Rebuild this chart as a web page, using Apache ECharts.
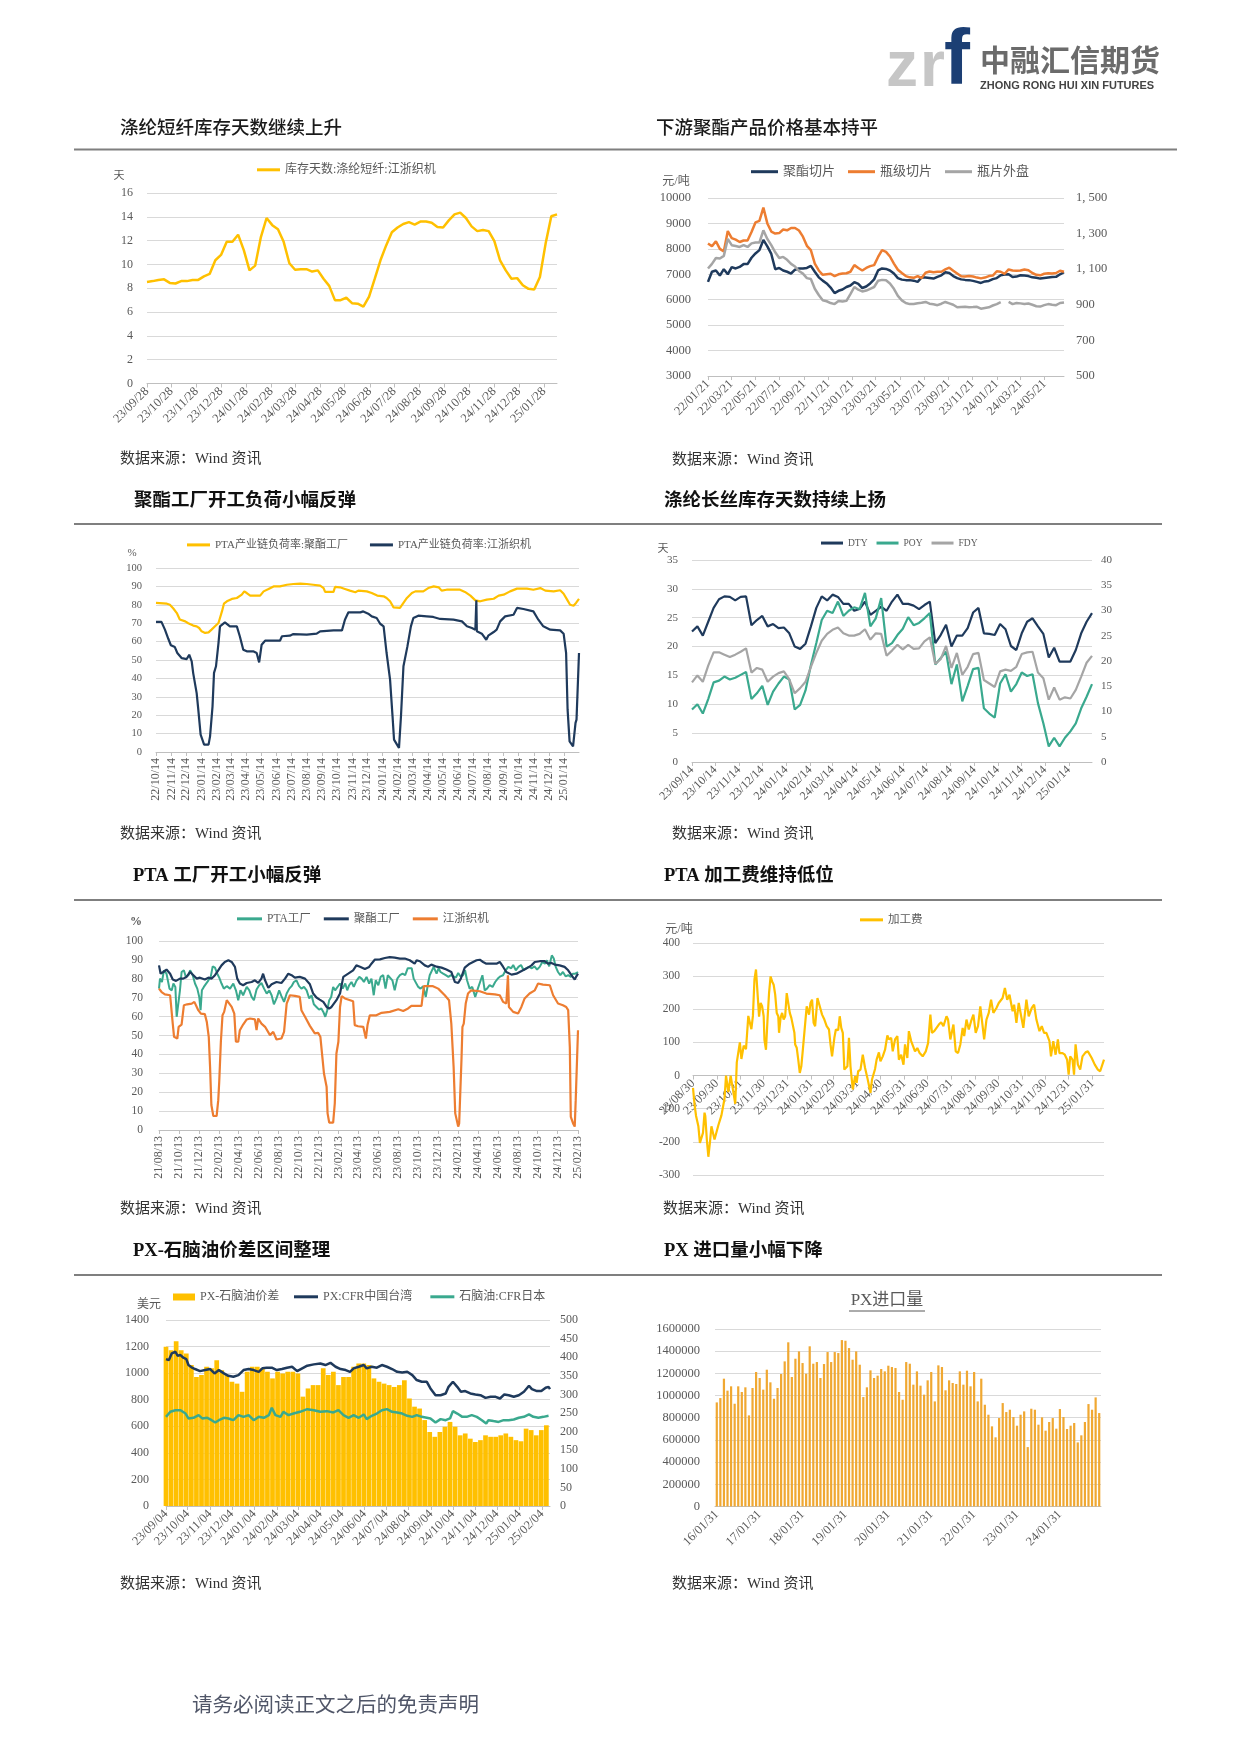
<!DOCTYPE html>
<html><head><meta charset="utf-8">
<script src="https://cdn.jsdelivr.net/npm/echarts@6/dist/echarts.min.js"></script>
<style>html,body{margin:0;padding:0;background:#fff}#c{width:1241px;height:1755px}</style>
</head><body><div id="c"></div>
<script>
// ---------------- DATA ----------------
// Chart 1: 涤纶短纤库存天数 (weekly from 2023-09-28)
const c1Start = [2023, 9, 28];
const c1Vals = [8.53,8.6,8.7,8.75,8.45,8.4,8.6,8.6,8.7,8.7,9.0,9.2,10.35,10.8,11.9,11.9,12.5,11.2,9.5,9.9,12.3,13.9,13.3,12.95,11.9,10.1,9.55,9.6,9.6,9.4,9.5,8.8,8.2,7.0,7.0,7.2,6.75,6.7,6.45,7.3,8.8,10.35,11.6,12.7,13.1,13.4,13.55,13.35,13.6,13.6,13.5,13.15,13.1,13.7,14.2,14.35,13.9,13.2,12.8,12.9,12.8,11.95,10.35,9.5,8.8,8.85,8.25,7.95,7.9,8.95,11.75,14.05,14.2];

// Chart 2: 下游聚酯产品价格 (every 10 days from 2022-01-21)
const c2Start = [2022, 1, 21];
const c2Chip = [6700,7100,7150,6950,7200,7000,7280,7230,7290,7400,7400,7650,7820,7950,8350,8100,7800,7200,7250,7150,7100,7030,7180,7230,7230,7250,7330,7100,6880,6750,6640,6480,6260,6350,6400,6500,6560,6690,6620,6460,6520,6640,6800,7150,7230,7210,7150,7030,6850,6790,6770,6770,6750,6700,6880,6870,6850,6830,6900,6960,7080,7050,6930,6850,6800,6780,6770,6740,6700,6660,6720,6740,6810,6850,6960,6990,7000,6890,6910,6960,6950,6930,6880,6860,6830,6850,6870,6890,6900,7000,7080];
const c2Bottle = [8210,8100,8300,8000,7900,8700,8420,8360,8270,8330,8330,8660,9040,9100,9620,9000,8680,8600,8620,8760,8730,8820,8820,8720,8480,8120,7950,7420,7150,6980,7000,7020,6930,7000,7030,7040,7100,7360,7250,7150,7250,7320,7360,7680,7950,7880,7700,7420,7180,7050,6930,6880,6860,6930,6850,7060,7110,7080,7100,7100,7190,7260,7140,7030,6920,6910,6930,6910,6870,6840,6870,6930,6950,7120,7100,7020,7190,7150,7140,7150,7190,7160,7050,6980,6960,7020,7040,7030,7050,7140,7100];
const c2Export = [1104,1130,1163,1160,1175,1270,1235,1230,1225,1235,1225,1245,1250,1250,1318,1270,1235,1195,1163,1169,1153,1130,1115,1090,1075,1050,1045,990,955,926,920,910,904,921,918,922,960,1000,985,975,980,990,1000,1035,1040,1038,1020,990,950,925,910,904,904,909,911,916,906,903,898,906,916,908,900,886,888,889,886,887,889,878,882,886,896,904,915,null,916,904,910,908,904,907,900,892,890,898,904,900,898,910,913];

// Chart 3: 聚酯工厂开工负荷 ([days since 2022-10-14, value])
const c3Start = [2022, 10, 14];
const c3Poly = [[0,81],[22,80.6],[28,80],[35,78],[42,75.5],[48,72],[59,71],[65,70],[75,68.7],[82,68.3],[87,67.4],[92,65.6],[99,64.7],[106,65],[112,66.5],[119,68.3],[126,70.1],[129,72.8],[133,76.4],[137,80.6],[143,81.9],[153,83.2],[163,83.7],[173,85.5],[178,87.3],[183,86.4],[190,85],[210,85],[217,87.3],[227,88.6],[237,90],[250,90],[264,90.9],[277,91.3],[291,91.5],[304,91.3],[317,90.9],[331,90.4],[338,89.1],[341,87],[358,87],[361,89.7],[371,89.5],[381,88.6],[391,87.7],[402,86.8],[408,87.7],[425,87.3],[435,86.4],[446,85],[459,84.6],[465,83.7],[472,81.9],[479,78.6],[492,78.3],[499,81],[506,83.7],[516,86.4],[523,87.3],[539,87.3],[549,89.1],[560,90],[570,89.5],[576,87.7],[586,88.2],[613,88.2],[623,87],[634,85],[644,82.4],[654,81.9],[667,82.8],[681,83.3],[691,85],[701,85.5],[714,87.3],[728,88.8],[748,88.8],[761,88.2],[775,89.1],[785,87.7],[802,87.3],[815,87.9],[822,86],[829,82.8],[835,80],[842,79.5],[847,81],[853,83.2]];
const c3Loom = [[0,70.7],[11,70.7],[18,66.5],[25,61.4],[30,58],[38,57],[43,53.8],[52,51],[62,50.5],[67,52.9],[72,49.3],[75,42.9],[79,36.6],[82,32],[85,23.9],[90,9.4],[97,4],[106,4],[109,8.5],[114,24.8],[117,43],[121,46.6],[126,59.2],[129,68.3],[139,70.5],[149,68.3],[163,68.3],[169,62.9],[176,55.6],[183,54.7],[196,54.7],[203,53.8],[208,48.7],[213,58.3],[220,60.5],[250,60.5],[254,62.9],[270,63.2],[277,64.1],[304,63.8],[324,64.3],[331,65.6],[358,66.1],[375,66.1],[381,71.9],[388,75.9],[412,75.9],[418,76.4],[428,75.2],[435,73.7],[445,72.8],[452,69.7],[459,68.3],[465,53.8],[472,39.3],[477,19.4],[480,6.7],[486,4],[490,2.2],[494,19.4],[499,46.6],[507,57.4],[514,68.3],[519,72.8],[529,74.1],[546,73.7],[559,73.4],[573,72.3],[600,71.9],[617,71],[627,68.3],[637,67.4],[644,66.5],[646,82.4],[647,65.6],[657,64.3],[666,61],[670,63.2],[681,65.2],[687,66.5],[694,71],[704,73.7],[721,74.6],[728,78.3],[741,77.7],[761,76.4],[771,71.9],[781,68.3],[795,66.5],[815,66.1],[822,64.3],[827,53.8],[830,23],[834,5.8],[841,3.1],[843,2.2],[846,15.8],[848,17.6],[853,53.8]];

// Chart 4: 涤纶长丝库存天数 (weekly from 2023-09-14)
const c4Start = [2023, 9, 14];
const c4DTY = [22.6,23.5,21.9,24.3,26.7,28.2,28.7,28.6,28,28.6,28.7,23.7,24.6,25.3,23.5,23.9,23.2,23.3,22.3,20,19.6,20.5,23.5,26.7,28.7,28,29,28.6,27.4,27.4,26.2,26.5,27.8,25.5,26.2,26.9,26.2,27.8,29,27.4,27.4,27.1,26.5,27.2,27.8,20.6,22,23.8,20,21.9,21.9,23.2,25.9,26.7,22.3,22.2,22,23.9,23,20.1,19.4,22.3,24.3,24.9,23.5,22.2,18.1,19.8,17.4,17.4,17.4,19.4,22.3,24.3,25.8];
const c4POY = [9.1,10,8.4,10.9,13.8,14.1,14.8,14.3,14.6,15.1,15.6,10.9,11.9,13.2,9.9,12.2,13.6,14.8,14.3,9.1,9.9,12.4,16.8,20.6,24.6,26.2,25.8,27.8,25.3,26.2,26.8,26.5,29.3,23.5,24.9,28.4,20,20.6,22,23.1,25.1,23.7,24.1,24.9,25.8,16.9,18,19.1,13.5,16.9,10.5,13.2,16.1,16.3,9.3,8.4,7.7,13.6,15.2,12.2,13.5,15.5,14.9,15.2,10.2,6.7,2.7,4.2,2.7,4.2,5.3,6.7,9.3,11.3,13.5];
const c4FDY = [13.8,15,13.9,16.7,19,19,18.6,18.2,18.6,19.1,19.7,15.5,16.3,16,13.9,14.8,15.4,15.7,14.3,11.9,12.8,13.9,16.5,18.9,21,22.2,22.9,23.3,22.3,21.9,21.9,22.2,23,21.2,22.3,22.2,18.4,19.3,20.3,19.5,20.3,19.6,19.7,20.9,21.6,17,17.8,20.1,16.3,18.9,15.1,16.5,18.7,18.9,14.2,13.6,13,15.7,16,15.8,16.5,18.7,19,19.1,15.5,14.5,10.8,12.9,10.8,11.2,11,12.5,14.8,17.2,18.4];

// Chart 5: PTA 工厂开工 ([days since 2021-08-13, value])
const c5Start = [2021, 8, 13];
const c5PTA = [[0,74.8],[3,80.1],[9,78.3],[15,84.5],[23,82.7],[32,74.8],[39,73.9],[44,77.5],[50,75.7],[54,59.9],[60,60.7],[64,73.9],[69,83.6],[76,84.5],[82,81],[90,81.9],[95,84.5],[103,81.9],[110,77.5],[117,74.8],[123,70.4],[127,63.4],[131,73.9],[137,75.7],[143,76.6],[151,79.2],[158,81],[164,86.6],[171,85.9],[178,82.7],[184,80.6],[191,77.5],[198,74.8],[207,76.1],[217,74.8],[227,77.5],[235,73.9],[242,68.7],[249,73.9],[257,71.3],[268,75.7],[276,73.9],[283,70.4],[290,68.7],[298,74.3],[306,76.6],[313,77.8],[321,74.8],[329,72.2],[337,73.9],[344,71.3],[351,66.5],[359,69.6],[367,73.9],[374,70.8],[382,67.8],[390,72.2],[398,74.8],[405,76.1],[412,78.3],[420,79.2],[428,76.1],[435,74.8],[443,75.7],[451,73.9],[459,69.6],[466,71.3],[473,66.5],[481,65.1],[489,63.7],[496,64.3],[502,62.5],[508,59.9],[514,63.4],[520,68.7],[526,70.4],[532,75.7],[538,73.9],[544,74.8],[553,77.5],[561,74.8],[569,77.5],[575,73.9],[581,76.6],[588,78.3],[595,75.7],[603,78.9],[612,81],[619,80.1],[626,78.3],[634,81],[642,77.5],[649,80.1],[656,71.3],[662,79.2],[670,76.6],[677,81],[685,81.9],[692,74.8],[699,81.9],[705,81],[713,79.2],[720,73.9],[728,80.1],[736,81.9],[744,82.7],[752,81.9],[760,85.6],[766,86.3],[772,85.6],[778,80.1],[784,81],[792,75.7],[799,74.8],[807,76.1],[815,70.4],[822,77.5],[827,81.9],[833,82.7],[839,86.3],[848,82.7],[854,85.6],[860,83.6],[868,82.7],[876,81.9],[884,81],[892,81.9],[898,81],[907,80.6],[914,83.1],[921,81.3],[929,81.9],[935,84.5],[941,79.2],[949,74.8],[957,75.7],[966,70.4],[974,74.8],[980,73.9],[988,81.9],[995,73.9],[1002,74.8],[1010,76.6],[1019,75.7],[1027,78.3],[1035,80.1],[1043,81.3],[1051,81.9],[1059,84.5],[1067,86.3],[1076,85.6],[1082,87.3],[1090,84.5],[1098,86.3],[1106,87.3],[1114,84.5],[1122,85.6],[1130,86.3],[1139,85.6],[1147,86.6],[1155,84.9],[1163,86.3],[1171,88.9],[1179,88],[1185,89.8],[1192,86.6],[1200,92.4],[1206,90.7],[1212,86.3],[1219,83.6],[1226,81.9],[1234,83.6],[1242,81.3],[1250,81.9],[1258,81],[1264,82.7],[1272,82.7],[1280,83.6]];
const c5Poly = [[0,87.1],[5,82.7],[13,83.6],[23,84.9],[34,82.7],[42,79.6],[52,78.9],[64,80.1],[74,80.1],[84,81],[95,83.6],[105,81.9],[115,80.1],[125,80.6],[140,79.6],[151,80.6],[161,80.1],[171,81.9],[181,84.5],[191,87.1],[201,88.9],[212,89.8],[222,88.9],[232,86.3],[239,80.1],[247,77.5],[257,76.6],[268,77.8],[283,78.3],[293,79.2],[303,77.8],[313,80.1],[318,82.7],[324,79.2],[334,75.2],[344,77.1],[359,78.3],[374,77.8],[385,80.1],[395,82.7],[405,81.9],[415,80.6],[430,81],[446,80.1],[461,77.1],[471,72.2],[481,70.1],[491,69],[502,67.8],[512,65.1],[520,64.3],[527,65.1],[542,68.7],[553,72.2],[563,81],[578,82.7],[593,84.5],[603,87.1],[614,86.4],[629,85.2],[642,86.3],[649,88],[659,90.1],[675,90.3],[690,91],[705,91.5],[720,91.2],[736,90.7],[751,90.7],[766,89.8],[781,88],[787,89.8],[797,89.3],[812,87.1],[822,86.4],[832,87.5],[848,86.4],[863,85.9],[878,84.9],[893,83.6],[904,78.3],[914,77.8],[922,80.1],[934,85.9],[949,88],[970,89.8],[980,90.1],[990,88.9],[1000,88],[1031,88],[1041,88.9],[1051,86.4],[1061,83.6],[1077,82.2],[1092,82.7],[1102,83.6],[1112,84.5],[1122,85.4],[1138,87.1],[1148,88.9],[1163,89.3],[1178,89.3],[1188,88],[1199,88.4],[1209,87.5],[1224,87.1],[1239,86.3],[1250,84.5],[1260,81.9],[1270,79.6],[1275,81.3],[1280,82.7]];
const c5Loom = [[0,74.8],[8,73],[18,71.8],[34,71.3],[39,70.4],[42,56.3],[46,49.3],[56,48.4],[60,54.6],[69,55.8],[74,56.3],[76,66],[86,66.5],[100,66.9],[108,67.8],[120,63.4],[128,61.6],[140,61.3],[146,57.2],[152,49.3],[156,33.5],[160,13.2],[166,7.4],[176,7.4],[181,15.8],[184,25.5],[189,46.7],[194,60.7],[199,62.5],[207,68.7],[212,68.1],[222,65.1],[230,61.6],[235,46.7],[242,46.7],[247,52.8],[257,55.8],[268,58.5],[278,59],[293,58.5],[298,52.8],[303,59],[313,56.3],[324,54.6],[339,50.2],[349,51.9],[359,47.9],[374,48.4],[382,51.9],[390,66.9],[400,71.3],[415,71],[430,70.4],[435,63.4],[446,59.9],[461,55.1],[476,51.1],[486,51.4],[493,49.3],[499,38.7],[504,29.9],[512,22.9],[515,8.8],[520,3.9],[532,3.9],[537,14.1],[542,40.5],[548,46.7],[553,65.1],[558,70.8],[568,69.6],[593,68.1],[598,55.5],[608,54.9],[624,54.6],[632,48.4],[637,55.5],[644,60.7],[664,60.7],[680,62],[705,62.5],[731,63.9],[746,63],[761,64.3],[771,65.7],[802,65.7],[809,76.1],[837,76.1],[853,74.8],[873,71.3],[886,68.7],[893,56.3],[900,33.5],[905,8.8],[914,1.8],[917,3.5],[924,37],[927,54.6],[931,56.3],[937,66.9],[944,72.2],[954,73.9],[980,73.4],[1000,72.2],[1026,71.8],[1041,71.3],[1051,67.8],[1061,66.9],[1066,81.9],[1069,65.1],[1082,62.5],[1097,61.6],[1107,65.1],[1117,69.6],[1132,72.2],[1148,73.9],[1158,77.5],[1173,76.9],[1194,76.6],[1204,71.3],[1219,66.9],[1234,66],[1244,65.1],[1250,63.4],[1255,44],[1258,7],[1265,3.5],[1270,1.8],[1273,15.8],[1277,16.7],[1280,52.8]];

// Chart 6: PTA 加工费 ([days since 2023-08-30, value])
const c6Start = [2023, 8, 30];
const c6Fee = [[0,-37],[2,-87],[4,-122],[7,-153],[9,-203],[11,-198],[13,-173],[15,-112],[16,-122],[18,-193],[20,-245],[22,-203],[24,-153],[28,-193],[33,-150],[37,-120],[41,-70],[43,0],[46,-50],[49,0],[51,-5],[55,-85],[57,40],[61,100],[63,50],[66,90],[69,80],[72,180],[76,140],[78,180],[80,290],[82,320],[86,178],[88,219],[90,209],[92,179],[93,108],[95,78],[97,169],[99,249],[101,299],[103,284],[105,274],[107,244],[109,189],[111,179],[112,129],[114,174],[116,189],[118,169],[120,179],[122,249],[124,244],[126,189],[128,174],[129,169],[132,129],[133,94],[135,84],[137,48],[139,8],[141,28],[143,78],[145,78],[148,209],[151,184],[153,219],[155,229],[157,159],[159,149],[162,234],[165,209],[168,184],[171,169],[174,149],[177,139],[179,94],[181,58],[184,114],[186,139],[189,137],[191,179],[193,144],[195,129],[197,18],[201,28],[203,114],[205,28],[208,-42],[211,-2],[213,-22],[215,13],[218,18],[221,63],[224,23],[227,-7],[229,-12],[231,-52],[233,-12],[237,20],[239,48],[242,70],[244,43],[247,58],[250,78],[253,121],[255,109],[258,114],[260,73],[263,109],[266,119],[268,48],[271,63],[274,33],[276,94],[279,53],[281,134],[284,104],[286,109],[289,73],[292,83],[295,68],[299,58],[303,73],[306,98],[309,184],[311,129],[314,134],[317,144],[320,154],[323,161],[326,149],[330,179],[332,169],[335,109],[339,154],[342,73],[345,68],[348,94],[351,144],[353,119],[356,169],[359,139],[362,164],[365,184],[368,129],[371,149],[374,209],[379,109],[382,169],[385,189],[388,229],[391,189],[395,204],[398,219],[403,234],[406,264],[409,229],[412,244],[416,194],[418,214],[421,159],[424,219],[430,144],[434,229],[437,179],[441,204],[444,214],[447,169],[451,134],[454,149],[457,129],[460,129],[464,104],[466,58],[469,104],[472,63],[475,109],[477,68],[481,68],[484,63],[487,48],[489,3],[491,58],[494,48],[496,3],[498,94],[501,33],[504,18],[507,58],[511,70],[514,73],[519,53],[523,33],[527,18],[530,13],[535,48]];
const c6Ticks = ['2023-08-30','2023-09-30','2023-10-31','2023-11-30','2023-12-31','2024-01-31','2024-02-29','2024-03-31','2024-04-30','2024-05-31','2024-06-30','2024-07-31','2024-08-31','2024-09-30','2024-10-31','2024-11-30','2024-12-31','2025-01-31'];

// Chart 7: PX-石脑油价差 (bars weekly from 2023-09-04; lines [days, value])
const c7Start = [2023, 9, 4];
const c7Spread = [428,419,443,419,410,379,347,352,374,370,392,365,352,334,329,307,361,374,374,370,361,343,361,356,361,361,356,294,316,325,325,370,352,361,325,347,347,374,383,383,379,343,334,329,325,320,325,338,289,267,262,231,199,186,199,213,226,213,190,195,181,172,177,190,186,186,190,195,186,177,174,208,204,190,204,217];
const c7PX = [[0,1106],[4,1098],[8,1149],[13,1161],[16,1131],[20,1136],[24,1116],[28,1106],[31,1061],[36,1041],[40,1031],[47,1015],[54,1023],[61,1031],[67,998],[73,1023],[80,998],[86,980],[93,973],[100,985],[107,1023],[114,1031],[121,1023],[128,1010],[133,1036],[139,1041],[146,1041],[153,1023],[160,1031],[167,1041],[174,1048],[181,1015],[188,1036],[195,1056],[204,1066],[213,1073],[220,1061],[227,1078],[234,1048],[241,1031],[248,1023],[254,1010],[259,1036],[266,1048],[273,1061],[277,1036],[284,1048],[291,1041],[298,1061],[305,1048],[312,1031],[319,1010],[326,1005],[333,1010],[340,985],[346,948],[353,935],[360,935],[365,885],[372,834],[379,834],[386,847],[390,897],[396,935],[402,897],[407,860],[413,865],[420,847],[427,840],[434,834],[441,814],[448,822],[455,822],[461,809],[467,840],[473,834],[480,822],[487,834],[494,860],[501,905],[505,880],[512,865],[518,865],[524,890],[528,897],[530,880]];
const c7Naphtha = [[0,671],[6,709],[13,721],[20,721],[27,696],[31,659],[38,664],[45,684],[50,659],[57,664],[63,646],[68,628],[73,646],[80,664],[86,659],[93,646],[100,684],[107,671],[114,684],[121,646],[128,671],[135,664],[142,684],[146,739],[151,684],[158,671],[162,709],[169,684],[176,696],[185,709],[195,729],[204,721],[213,709],[222,714],[231,704],[238,721],[245,684],[252,664],[259,684],[266,664],[273,689],[277,654],[284,679],[291,696],[298,721],[305,729],[312,709],[319,704],[326,696],[333,679],[340,671],[346,684],[353,671],[360,664],[365,659],[372,628],[379,654],[386,646],[392,659],[396,714],[402,696],[409,671],[415,671],[422,684],[429,671],[436,646],[442,621],[445,646],[452,639],[459,633],[466,646],[473,646],[480,651],[487,664],[494,671],[501,689],[507,671],[514,664],[521,671],[528,679]];

// Chart 8: PX 进口量 (monthly 2016-01 .. 2024-12)
const c8Vals = [938000,977000,1152000,1044000,1083000,926000,1083000,1032000,1074000,821000,1068000,1212000,1158000,1053000,1233000,1119000,971000,1068000,1194000,1308000,1480000,1167000,1332000,1398000,1293000,1197000,1444000,1287000,1302000,1158000,1284000,1392000,1302000,1392000,1383000,1500000,1494000,1428000,1323000,1398000,1278000,986000,1074000,1227000,1158000,1179000,1239000,1218000,1269000,1257000,1248000,1032000,962000,1302000,1287000,1098000,1218000,1089000,1008000,1137000,1212000,947000,1272000,1257000,1047000,1137000,1113000,1104000,1218000,1098000,1224000,1083000,1212000,947000,1152000,917000,827000,722000,623000,797000,932000,851000,872000,806000,728000,827000,857000,535000,881000,872000,737000,803000,683000,761000,797000,701000,878000,806000,698000,728000,752000,577000,641000,761000,923000,872000,983000,842000];

// ---------------- HELPERS ----------------
const DAY = 86400000;
const SERIF = "'Liberation Serif','Noto Sans CJK SC',serif";
const SANS = "'Noto Sans CJK SC','Noto Sans',sans-serif";
const GRID_C = '#d9d9d9', AXIS_C = '#bfbfbf', LBL = '#595959';
const GOLD = '#ffc000', NAVY = '#1f3a5c', ORANGE = '#ed7d31', GRAY = '#a5a5a5', TEAL = '#3aa98e';

function D(a){ return Date.UTC(a[0], a[1]-1, a[2]); }
function P(s){ const p = s.split('-').map(Number); return D(p); }
function p2(n){ return String(n).padStart(2,'0'); }
function fmtTs(ts){ const t = new Date(ts); return p2(t.getUTCFullYear()%100)+'/'+p2(t.getUTCMonth()+1)+'/'+p2(t.getUTCDate()); }
function monthly(a, count, step){ const out=[]; for(let i=0;i<count;i++) out.push(Date.UTC(a[0], a[1]-1+i*step, a[2])); return out; }
function dayOf(a, ts){ return Math.round((ts - D(a))/DAY); }
// x values are "days since the chart's first date"
function byStep(stepDays, vals){ return vals.map((v,i)=>[i*stepDays, v]); }

const grids=[], xAxes=[], yAxes=[], series=[], legends=[], graphics=[];
function addGrid(l,t,w,h){ grids.push({left:l, top:t, width:w, height:h}); return grids.length-1; }
function addDayX(gi, start, maxDays, tickTs, rotate, fs, offset){
  const ticks = tickTs.map(ts=>dayOf(start, ts));
  const s0 = D(start);
  xAxes.push({type:'value', gridIndex:gi, min:0, max:maxDays, offset:offset||0,
    axisLine:{show:true, onZero:false, lineStyle:{color:AXIS_C, width:1}},
    axisTick:{show:true, customValues:ticks, length:4, lineStyle:{color:AXIS_C}},
    axisLabel:{customValues:ticks, formatter:(v)=>fmtTs(s0 + v*DAY), rotate, fontSize:fs, color:LBL, fontFamily:SERIF, margin:6, hideOverlap:false, showMinLabel:true, showMaxLabel:true},
    splitLine:{show:false}});
  return xAxes.length-1;
}
function addY(gi, min, max, interval, o){
  o = o||{};
  yAxes.push({type:'value', gridIndex:gi, min, max, interval, position:o.pos||'left',
    axisLine:{show:false, onZero:false}, axisTick:{show:false},
    axisLabel:{fontSize:o.fs||11, color:LBL, fontFamily:SERIF, margin:o.margin||14, formatter:o.fmt||((v)=>String(v))},
    splitLine:{show:o.split!==false, lineStyle:{color:GRID_C, width:1}}});
  return yAxes.length-1;
}
function addLine(name, xi, yi, data, color, w){
  series.push({type:'line', name, xAxisIndex:xi, yAxisIndex:yi, data, symbol:'none', showSymbol:false,
    lineStyle:{color, width:w||2}, itemStyle:{color}, connectNulls:false});
}
function addLegend(names, left, cy, fs, iw, ih, gap){
  legends.push({data:names, left, top:cy-fs*0.6, padding:0, itemGap:gap, itemWidth:iw, itemHeight:ih, icon:'rect',
    textStyle:{fontSize:fs, color:LBL, fontFamily:SERIF}, selectedMode:false});
}
function T(text, x, y, font, fill, align){
  graphics.push({type:'text', x, y, silent:true, style:{text, font, fill, textAlign:align||'left', textVerticalAlign:'middle'}});
}
function L(x1,y1,x2,y2,color,w){ graphics.push({type:'line', silent:true, shape:{x1,y1,x2,y2}, style:{stroke:color, lineWidth:w}}); }

// ---------------- CHART 1 ----------------
const g1 = addGrid(147, 193, 410, 190.5);
const x1 = addDayX(g1, c1Start, 504, monthly(c1Start,17,1), 45, 12.5);
const y1 = addY(g1, 0, 16, 2, {fs:12, margin:14});
addLine('库存天数:涤纶短纤:江浙织机', x1, y1, byStep(7,c1Vals), GOLD, 2.5);
addLegend(['库存天数:涤纶短纤:江浙织机'], 257, 171, 12, 23, 3, 10);

// ---------------- CHART 2 ----------------
const g2 = addGrid(708, 198, 356, 178);
const x2 = addDayX(g2, c2Start, 900, monthly(c2Start,15,2), 45, 12.5);
const y2L = addY(g2, 3000, 10000, 1000, {fs:12.5, margin:17});
const y2R = addY(g2, 500, 1500, 200, {pos:'right', split:false, fs:12.5, margin:12,
  fmt:(v)=> v>=1000 ? Math.floor(v/1000)+', '+String(v%1000).padStart(3,'0') : String(v)});
addLine('聚酯切片', x2, y2L, byStep(10,c2Chip), NAVY, 2.5);
addLine('瓶级切片', x2, y2L, byStep(10,c2Bottle), ORANGE, 2.5);
addLine('瓶片外盘', x2, y2R, byStep(10,c2Export), GRAY, 2.5);
addLegend(['聚酯切片','瓶级切片','瓶片外盘'], 751, 173, 13, 27, 3, 13);

// ---------------- CHART 3 ----------------
const g3 = addGrid(156, 568, 423, 184);
const x3 = addDayX(g3, c3Start, 853, monthly(c3Start,28,1), 90, 12);
const y3 = addY(g3, 0, 100, 10, {fs:10.5, margin:14});
addLine('PTA产业链负荷率:聚酯工厂', x3, y3, c3Poly, GOLD, 2.2);
addLine('PTA产业链负荷率:江浙织机', x3, y3, c3Loom, NAVY, 2.2);
addLegend(['PTA产业链负荷率:聚酯工厂','PTA产业链负荷率:江浙织机'], 187, 546, 11, 23, 3, 22);

// ---------------- CHART 4 ----------------
const g4 = addGrid(692, 560, 400, 202);
const x4 = addDayX(g4, c4Start, 518, monthly(c4Start,17,1), 45, 12);
const y4L = addY(g4, 0, 35, 5, {fs:11, margin:14});
const y4R = addY(g4, 0, 40, 5, {pos:'right', split:false, fs:11, margin:9});
addLine('DTY', x4, y4L, byStep(7,c4DTY), NAVY, 2.2);
addLine('POY', x4, y4L, byStep(7,c4POY), TEAL, 2.2);
addLine('FDY', x4, y4L, byStep(7,c4FDY), GRAY, 2.2);
addLegend(['DTY','POY','FDY'], 821, 544, 9.5, 22, 3, 9);

// ---------------- CHART 5 ----------------
const g5 = addGrid(159, 941, 419, 189);
const x5 = addDayX(g5, c5Start, dayOf(c5Start, D([2025,2,13])), monthly(c5Start,22,2), 90, 12);
const y5 = addY(g5, 0, 100, 10, {fs:11.5, margin:16});
addLine('PTA工厂', x5, y5, c5PTA, TEAL, 2);
addLine('聚酯工厂', x5, y5, c5Poly, NAVY, 2.2);
addLine('江浙织机', x5, y5, c5Loom, ORANGE, 2.2);
addLegend(['PTA工厂','聚酯工厂','江浙织机'], 237, 920, 11.5, 25, 3, 13);

// ---------------- CHART 6 ----------------
const g6H = 232, c6Min = -300, c6Max = 400;
const g6 = addGrid(693, 943, 411, g6H);
// axis sits on the zero line: shift it up from the grid bottom by the height of the negative range
const x6 = addDayX(g6, c6Start, 535, c6Ticks.map(P), 45, 12.5, -g6H*(0-c6Min)/(c6Max-c6Min));
const y6 = addY(g6, c6Min, c6Max, 100, {fs:11.5, margin:13});
addLine('加工费', x6, y6, c6Fee, GOLD, 2.2);
addLegend(['加工费'], 860, 921, 11.5, 23, 3, 10);

// ---------------- CHART 7 ----------------
const g7 = addGrid(166, 1320, 384, 186);
const x7 = addDayX(g7, c7Start, 530, monthly(c7Start,18,1), 45, 12.5);
const y7L = addY(g7, 0, 1400, 200, {fs:12, margin:17});
const y7R = addY(g7, 0, 500, 50, {pos:'right', split:false, fs:12, margin:10});
series.push({type:'bar', name:'PX-石脑油价差', xAxisIndex:x7, yAxisIndex:y7R, data:byStep(7,c7Spread), barWidth:4.7, itemStyle:{color:GOLD}, z:1});
addLine('PX:CFR中国台湾', x7, y7L, c7PX, NAVY, 2.5);
addLine('石脑油:CFR日本', x7, y7L, c7Naphtha, TEAL, 2.5);
legends.push({data:['PX-石脑油价差'], left:173, top:1298-7, padding:0, itemWidth:22, itemHeight:7, icon:'rect', selectedMode:false, textStyle:{fontSize:12, color:LBL, fontFamily:SERIF}});
addLegend(['PX:CFR中国台湾','石脑油:CFR日本'], 294, 1298, 12, 24, 3, 18);

// ---------------- CHART 8 ----------------
const c8Months = c8Vals.map((v,i)=>{ const y = 2016 + Math.floor(i/12), m = i%12; return fmtTs(Date.UTC(y, m+1, 0)); });
const g8 = addGrid(715, 1329, 386, 177.4);
xAxes.push({type:'category', gridIndex:g8, data:c8Months,
  axisLine:{lineStyle:{color:AXIS_C}},
  axisTick:{alignWithLabel:true, interval:(i)=>i%12===0, length:4, lineStyle:{color:AXIS_C}},
  axisLabel:{interval:(i)=>i%12===0, rotate:45, fontSize:12.5, color:LBL, fontFamily:SERIF, margin:6}});
const x8 = xAxes.length-1;
const y8 = addY(g8, 0, 1600000, 200000, {fs:12.5, margin:15});
series.push({type:'bar', name:'PX进口量', xAxisIndex:x8, yAxisIndex:y8, data:c8Vals, barWidth:'62%', itemStyle:{color:'#f0a832'}});

// ---------------- TEXT / DECOR ----------------
const TF = "'Liberation Serif','Noto Sans CJK SC',serif";
T('涤纶短纤库存天数继续上升', 120, 127, '500 18.5px '+SANS, '#1a1a1a');
T('下游聚酯产品价格基本持平', 656, 127, '500 18.5px '+SANS, '#1a1a1a');
T('聚酯工厂开工负荷小幅反弹', 134, 501, 'bold 18.5px '+TF, '#111');
T('涤纶长丝库存天数持续上扬', 664, 501, 'bold 18.5px '+TF, '#111');
T('PTA 工厂开工小幅反弹', 133, 876, 'bold 18.5px '+TF, '#111');
T('PTA 加工费维持低位', 664, 876, 'bold 18.5px '+TF, '#111');
T('PX-石脑油价差区间整理', 133, 1251, 'bold 18.5px '+TF, '#111');
T('PX 进口量小幅下降', 664, 1251, 'bold 18.5px '+TF, '#111');
L(74, 149.5, 1177, 149.5, '#7f7f7f', 2);
L(74, 524, 1162, 524, '#7f7f7f', 2);
L(74, 900, 1162, 900, '#7f7f7f', 2);
L(74, 1275, 1162, 1275, '#7f7f7f', 2);
const SRC = '数据来源：Wind 资讯', SF = '15px '+SERIF, SC = '#333';
T(SRC, 120, 459, SF, SC); T(SRC, 672, 460, SF, SC);
T(SRC, 120, 834, SF, SC); T(SRC, 672, 834, SF, SC);
T(SRC, 120, 1209, SF, SC); T(SRC, 663, 1209, SF, SC);
T(SRC, 120, 1584, SF, SC); T(SRC, 672, 1584, SF, SC);
T('天', 119, 176, '11px '+SERIF, LBL, 'center');
T('元/吨', 676, 182, '12px '+SERIF, LBL, 'center');
T('%', 132, 553, '11px '+SERIF, LBL, 'center');
T('天', 663, 549, '11px '+SERIF, LBL, 'center');
T('%', 136, 922, 'bold 12px '+SERIF, LBL, 'center');
T('元/吨', 679, 930, '12px '+SERIF, LBL, 'center');
T('美元', 149, 1305, '12px '+SERIF, LBL, 'center');
T('PX进口量', 887, 1301, '17px '+SERIF, LBL, 'center');
L(849, 1311, 925, 1311, LBL, 1);
T('z', 886, 68, 'bold 64px "Liberation Sans"', '#c6c6c6');
T('r', 920, 68, 'bold 64px "Liberation Sans"', '#c6c6c6');
T('f', 944, 62, 'bold 78px "Liberation Sans"', '#1c3f74');
T('中融汇信期货', 980, 60, 'bold 30px '+SANS, '#6b6b6b');
T('ZHONG RONG HUI XIN FUTURES', 980, 86, 'bold 11px "Liberation Sans Narrow","Liberation Sans"', '#444');
T('请务必阅读正文之后的免责声明', 192, 1707, '20.5px '+SERIF, '#505668');

// ---------------- RENDER ----------------
const chart = echarts.init(document.getElementById('c'), null, {renderer:'canvas', width:1241, height:1755});
chart.setOption({
  animation:false,
  backgroundColor:'#fff',
  textStyle:{fontFamily:SERIF},
  grid:grids, xAxis:xAxes, yAxis:yAxes, series, legend:legends, graphic:graphics
});
</script></body></html>
